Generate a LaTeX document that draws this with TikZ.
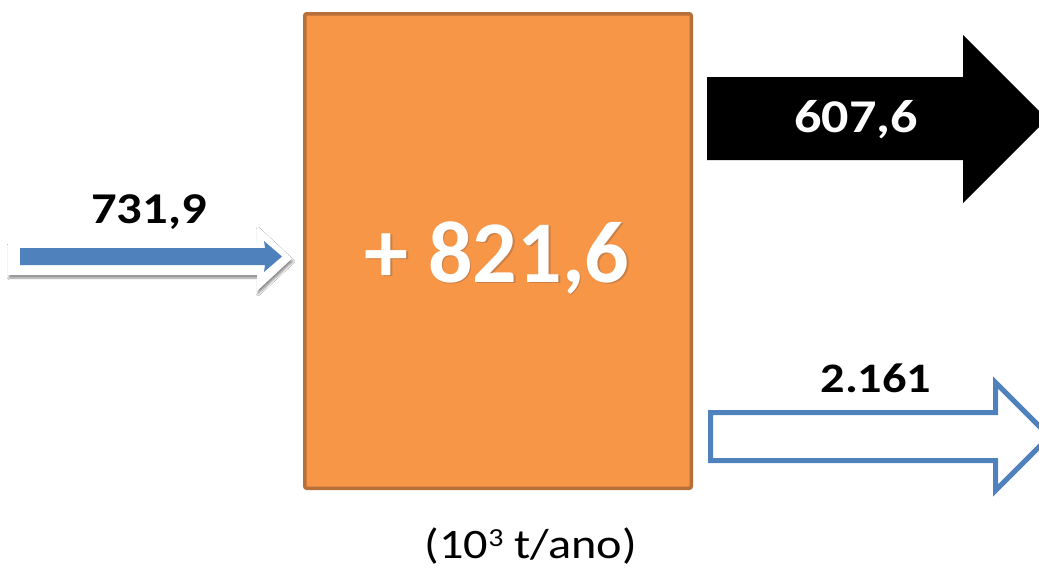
\documentclass[tikz,border=0pt]{standalone}
\usepackage{fontspec}
\setmainfont{Carlito}
\newfontfamily\widefont[FakeStretch=1.15]{Carlito}
\usetikzlibrary{shadows.blur}

\definecolor{boxfill}{HTML}{F79646}
\definecolor{boxline}{RGB}{183,112,58}
\definecolor{boxshade}{RGB}{200,128,72}
\definecolor{flowblue}{HTML}{4F81BD}

% white text with a soft offset shadow behind it
\newcommand{\shadedtext}[1]{%
  \makebox[0pt][l]{\hspace{1.5pt}\raisebox{-1.5pt}{\textcolor{boxshade}{#1}}}%
  \textcolor{white}{#1}}

\tikzset{
  procbox/.style={draw=boxline, fill=boxfill, line width=3.5pt, rounded corners=2pt,
    minimum width=386.5pt, minimum height=474.5pt, inner sep=0pt},
  flowlabel/.style={anchor=base, inner sep=0pt, font=\widefont\bfseries},
  glowarrow/.style={fill=white, blur shadow={shadow xshift=1pt, shadow yshift=-3pt,
    shadow blur steps=6, shadow opacity=45}},
  outarrow/.style={draw=flowblue, fill=white, line width=5pt, miter limit=10},
}

\begin{document}
\begin{tikzpicture}[x=1pt, y=-1pt]
  \clip (0,0) rectangle (1039,568);
  \fill[white] (0,0) rectangle (1039,568);

  % process box with the net balance
  \node[procbox] (box) at (498,251) {};
  \node[anchor=base, inner sep=0pt,
        font=\bfseries\fontsize{88}{90}\selectfont] (net) at (497,282) {\shadedtext{+ 821,6}};

  % incoming flow
  \path[glowarrow] (8,242) -- (257,242) -- (257,226) -- (292,258.5)
    -- (257,291) -- (257,275) -- (8,275) -- cycle;
  \fill[flowblue] (20,248) -- (265,248) -- (264,241) -- (282,256.5)
    -- (264,272) -- (265,265) -- (20,265) -- cycle;
  \node[flowlabel, font=\widefont\bfseries\fontsize{44}{46}\selectfont] (in) at (149,223) {731,9};

  % outgoing flow (black)
  \fill[black] (707,77) -- (963,77) -- (963,35) -- (1047,119)
    -- (963,203) -- (963,160) -- (707,160) -- cycle;
  \node[flowlabel, text=white, font=\widefont\bfseries\fontsize{47}{49}\selectfont] (out1) at (856,132) {607,6};

  % outgoing flow (outlined)
  \path[outarrow] (710.5,412.5) -- (995.5,412.5) -- (995.5,382.5) -- (1049.5,436.5)
    -- (995.5,490.5) -- (995.5,460.5) -- (710.5,460.5) -- cycle;
  \node[flowlabel, font=\widefont\bfseries\fontsize{42}{44}\selectfont] (out2) at (876,392) {2.161};

  % unit
  \node[anchor=base, inner sep=0pt, font=\widefont\fontsize{42}{44}\selectfont] (unit) at (531,558)
    {(10\raisebox{12pt}{\fontsize{26}{28}\selectfont 3} t/ano)};
\end{tikzpicture}
\end{document}
